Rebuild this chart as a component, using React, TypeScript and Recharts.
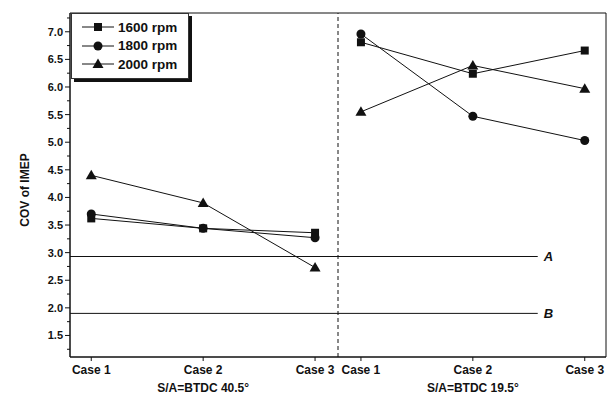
import React from 'react';
import { LineChart, Line, XAxis, YAxis, ReferenceLine, ReferenceArea, Legend, Label } from 'recharts';

const categories = ['Case 1', 'Case 2', 'Case 3'];
const groupLabels = ['S/A=BTDC 40.5°', 'S/A=BTDC 19.5°'];
const yTicks = [1.25, 1.5, 1.75, 2.0, 2.25, 2.5, 2.75, 3.0, 3.25, 3.5, 3.75, 4.0, 4.25, 4.5, 4.75, 5.0, 5.25, 5.5, 5.75, 6.0, 6.25, 6.5, 6.75, 7.0, 7.25];

const rpm1600Early = [3.62, 3.44, 3.36];
const rpm1600Late = [6.81, 6.24, 6.66];
const rpm1800Early = [3.70, 3.44, 3.27];
const rpm1800Late = [6.96, 5.47, 5.03];
const rpm2000Early = [4.40, 3.90, 2.73];
const rpm2000Late = [5.55, 6.39, 5.97];

const limitA = 2.93;
const limitB = 1.90;

// layout of the two groups on a numeric axis
const LATE_OFFSET = 2.41;
const DIVIDER = 2.205;
const X_MIN = -0.19;
const X_MAX = 4.6;
const REF_END = 3.99;
const Y_MIN = 1.11;
const Y_MAX = 7.34;

const FONT = 'Arial, "Liberation Sans", Helvetica, sans-serif';
const INK = '#111';

const buildSeries = (early: number[], late: number[]) => [
  ...early.map((v, i) => ({ x: i, y: v })),
  { x: DIVIDER, y: null },
  ...late.map((v, i) => ({ x: i + LATE_OFFSET, y: v })),
];

const s1600 = buildSeries(rpm1600Early, rpm1600Late);
const s1800 = buildSeries(rpm1800Early, rpm1800Late);
const s2000 = buildSeries(rpm2000Early, rpm2000Late);

const xTicks = [...categories.map((_, i) => i), ...categories.map((_, i) => i + LATE_OFFSET)];

const tickIndex = (v: number) => (v < DIVIDER ? Math.round(v) : Math.round(v - LATE_OFFSET));
const groupIndex = (v: number) => (v < DIVIDER ? 0 : 1);

const Marker = ({ shape, cx, cy }: { shape: string; cx: number; cy: number }) => {
  if (cx == null || cy == null || isNaN(cx) || isNaN(cy)) return null;
  if (shape === 'square') return <rect x={cx - 4} y={cy - 4} width={8} height={8} fill={INK} />;
  if (shape === 'circle') return <circle cx={cx} cy={cy} r={4.5} fill={INK} />;
  return <polygon points={`${cx},${cy - 5.5} ${cx - 5.5},${cy + 4} ${cx + 5.5},${cy + 4}`} fill={INK} />;
};

const dotFor = (shape: string) => (props: any) => (
  <Marker key={`${shape}-${props.index}`} shape={shape} cx={props.cx} cy={props.cy} />
);

const legendItems = [
  { name: '1600 rpm', shape: 'square' },
  { name: '1800 rpm', shape: 'circle' },
  { name: '2000 rpm', shape: 'triangle' },
];

const renderLegend = () => (
  <div
    style={{
      border: '1px solid #333',
      background: '#fff',
      boxShadow: '3px 3px 0 #111',
      width: 118,
      padding: '4px 0 4px 0',
      fontFamily: FONT,
      fontWeight: 'bold',
      fontSize: 13.5,
      color: INK,
      boxSizing: 'border-box',
    }}
  >
    {legendItems.map((it) => (
      <div key={it.name} style={{ display: 'flex', alignItems: 'center', height: 18.5 }}>
        <svg width={46} height={14} style={{ display: 'block' }}>
          <line x1={10} x2={42} y1={7} y2={7} stroke={INK} strokeWidth={1} />
          <Marker shape={it.shape} cx={26} cy={7} />
        </svg>
        <span>{it.name}</span>
      </div>
    ))}
  </div>
);

const tickStyle = { fontFamily: FONT, fontWeight: 'bold', fontSize: 11, fill: INK };

const CaseTick = (props: any) => {
  const { x, y, payload } = props;
  const v = payload.value as number;
  const idx = tickIndex(v);
  return (
    <g>
      <text x={x} y={y + 10} textAnchor="middle" style={{ ...tickStyle, fontSize: 12 }}>
        {categories[idx]}
      </text>
      {idx === 1 && (
        <text x={x} y={y + 28} textAnchor="middle" style={{ ...tickStyle, fontSize: 12 }}>
          {groupLabels[groupIndex(v)]}
        </text>
      )}
    </g>
  );
};

const Y_TICK_SIZE = 5;
const Y_TICK_MARGIN = 2;

const ValueTick = (props: any) => {
  const { x, y, payload } = props;
  const v = payload.value as number;
  const axisX = x + Y_TICK_SIZE + Y_TICK_MARGIN;
  const major = Math.abs(v * 2 - Math.round(v * 2)) < 1e-6;
  return (
    <g>
      <line x1={axisX - (major ? 5 : 3)} x2={axisX} y1={y} y2={y} stroke={INK} strokeWidth={1} />
      {major && (
        <text x={x} y={y} dy={4} textAnchor="end" style={tickStyle}>
          {v.toFixed(1)}
        </text>
      )}
    </g>
  );
};

export default function App() {
  return (
    <div style={{ position: 'absolute', left: 0, top: 0, background: '#fff' }}>
      <LineChart width={611} height={405} margin={{ top: 13, right: 5, bottom: 4, left: 10 }}>
        <XAxis
          xAxisId="main"
          type="number"
          dataKey="x"
          domain={[X_MIN, X_MAX]}
          ticks={xTicks}
          allowDataOverflow
          height={44}
          stroke={INK}
          tickSize={4}
          tickMargin={3}
          tick={<CaseTick />}
        />
        <YAxis
          type="number"
          domain={[Y_MIN, Y_MAX]}
          ticks={yTicks}
          allowDataOverflow
          interval={0}
          width={60}
          stroke={INK}
          tickLine={false}
          tickSize={Y_TICK_SIZE}
          tickMargin={Y_TICK_MARGIN}
          tick={<ValueTick />}
        >
          <Label
            content={({ viewBox }: any) => {
              const cx = viewBox.x + 15;
              const cy = viewBox.y + viewBox.height / 2 + 5;
              return (
                <text
                  x={cx}
                  y={cy}
                  transform={`rotate(-90, ${cx}, ${cy})`}
                  textAnchor="middle"
                  dominantBaseline="central"
                  style={{ fontFamily: FONT, fontWeight: 'bold', fontSize: 12, fill: INK }}
                >
                  COV of IMEP
                </text>
              );
            }}
          />
        </YAxis>
        <ReferenceArea
          xAxisId="main"
          x1={X_MIN}
          x2={X_MAX}
          y1={Y_MIN}
          y2={Y_MAX}
          fill="none"
          stroke={INK}
          strokeWidth={1}
          ifOverflow="visible"
        />
        <ReferenceLine
          xAxisId="main"
          x={DIVIDER}
          stroke={INK}
          strokeDasharray="4 3"
          strokeWidth={1}
        />
        <ReferenceLine
          xAxisId="main"
          segment={[{ x: X_MIN, y: limitA }, { x: REF_END, y: limitA }]}
          stroke={INK}
          strokeWidth={1}
          ifOverflow="visible"
          label={{
            value: 'A',
            position: 'right',
            offset: 6,
            style: { fontFamily: FONT, fontWeight: 'bold', fontStyle: 'italic', fontSize: 13, fill: INK },
          }}
        />
        <ReferenceLine
          xAxisId="main"
          segment={[{ x: X_MIN, y: limitB }, { x: REF_END, y: limitB }]}
          stroke={INK}
          strokeWidth={1}
          ifOverflow="visible"
          label={{
            value: 'B',
            position: 'right',
            offset: 6,
            style: { fontFamily: FONT, fontWeight: 'bold', fontStyle: 'italic', fontSize: 13, fill: INK },
          }}
        />
        <Line
          xAxisId="main"
          data={s1600}
          dataKey="y"
          name="1600 rpm"
          stroke={INK}
          strokeWidth={1}
          dot={dotFor('square')}
          activeDot={false}
          isAnimationActive={false}
          connectNulls={false}
        />
        <Line
          xAxisId="main"
          data={s1800}
          dataKey="y"
          name="1800 rpm"
          stroke={INK}
          strokeWidth={1}
          dot={dotFor('circle')}
          activeDot={false}
          isAnimationActive={false}
          connectNulls={false}
        />
        <Line
          xAxisId="main"
          data={s2000}
          dataKey="y"
          name="2000 rpm"
          stroke={INK}
          strokeWidth={1}
          dot={dotFor('triangle')}
          activeDot={false}
          isAnimationActive={false}
          connectNulls={false}
        />
        <Legend
          layout="vertical"
          align="center"
          verticalAlign="middle"
          content={renderLegend}
          wrapperStyle={{ left: 71, top: 13, width: 118 }}
        />
      </LineChart>
    </div>
  );
}
